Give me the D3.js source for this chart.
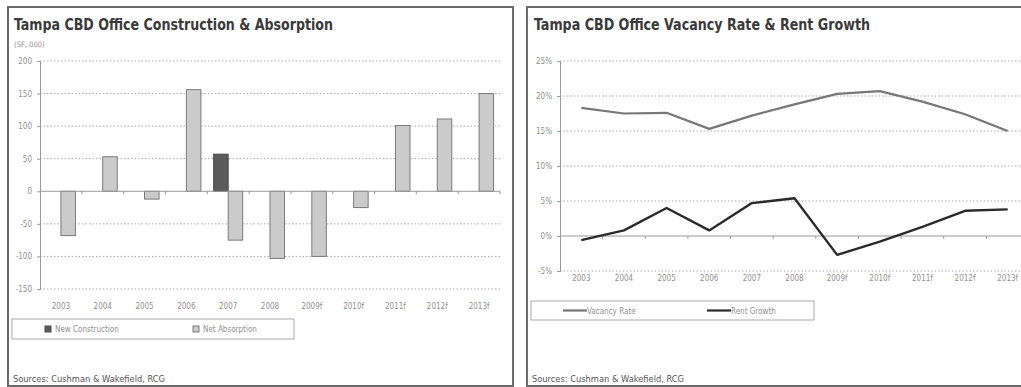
<!DOCTYPE html>
<html>
<head>
<meta charset="utf-8">
<script src="https://cdn.jsdelivr.net/npm/d3@7"></script>
<style>
  html, body { margin: 0; padding: 0; background: #fff; }
  svg { display: block; }
  .narrow { font-family: "Liberation Sans Narrow", "DejaVu Sans Condensed", "Arial Narrow", sans-serif; }
</style>
</head>
<body>
<svg id="chart" width="1021" height="387"></svg>
<script>
// Years shown on both panels
const years = ["2003", "2004", "2005", "2006", "2007", "2008", "2009f", "2010f", "2011f", "2012f", "2013f"];

// Construction & absorption, thousands of SF
const newConstruction = [0, 0, 0, 0, 57, 0, 0, 0, 0, 0, 0];
const netAbsorption = [-68, 53, -12, 156, -75, -103, -100, -25, 101, 111, 150];
const sfTicks = [200, 150, 100, 50, 0, -50, -100, -150];

// Vacancy rate and rent growth, percent
const vacancyRate = [18.3, 17.5, 17.6, 15.3, 17.2, 18.8, 20.3, 20.7, 19.2, 17.4, 15.0];
const rentGrowth = [-0.6, 0.8, 4.0, 0.8, 4.7, 5.4, -2.7, -0.8, 1.3, 3.6, 3.8];
const pctTicks = [25, 20, 15, 10, 5, 0, -5];

const svg = d3.select("#chart");
const gridColor = "#a8a8a8";
const labelColor = "#909090";

// ---------- panel frames ----------
svg.append("rect").attr("x", 8).attr("y", 7).attr("width", 505).attr("height", 379)
  .attr("fill", "none").attr("stroke", "#6a6a6a").attr("stroke-width", 2);
svg.append("rect").attr("x", 527).attr("y", 7).attr("width", 510).attr("height", 379)
  .attr("fill", "none").attr("stroke", "#6a6a6a").attr("stroke-width", 2);

function title(x, text, len) {
  svg.append("text").attr("class", "narrow").attr("x", x).attr("y", 30)
    .attr("font-size", 15.5).attr("font-weight", "bold").attr("fill", "#3a3a3a")
    .attr("textLength", len).attr("lengthAdjust", "spacingAndGlyphs").text(text);
}
function sources(x) {
  svg.append("text").attr("class", "narrow").attr("x", x).attr("y", 382)
    .attr("font-size", 9).attr("fill", "#555")
    .attr("textLength", 152).attr("lengthAdjust", "spacingAndGlyphs")
    .text("Sources: Cushman & Wakefield, RCG");
}
// plain hyphen for negative tick values
const fmtSF = d => String(d);
const fmtPct = d => d + "%";

// ---------- left panel: bars ----------
title(14, "Tampa CBD Office Construction & Absorption", 319);
svg.append("text").attr("class", "narrow").attr("x", 14).attr("y", 47)
  .attr("font-size", 7.5).attr("fill", labelColor).text("(SF, 000)");

const L = { left: 40, right: 500, top: 61, bottom: 289 };
const xL = d3.scaleBand().domain(years).range([L.left, L.right]).paddingInner(0.306).paddingOuter(0.153);
const xStepL = d3.scaleBand().domain(years).range([L.left, L.right]);
const seriesL = ["New Construction", "Net Absorption"];
const xSub = d3.scaleBand().domain(seriesL).range([0, xL.bandwidth()]);
const yL = d3.scaleLinear().domain([-150, 200]).range([L.bottom, L.top]);

const gL = svg.append("g");
// gridlines
gL.selectAll("line.grid").data(sfTicks.filter(d => d !== 0)).join("line")
  .attr("x1", L.left).attr("x2", L.right).attr("y1", d => yL(d)).attr("y2", d => yL(d))
  .attr("stroke", gridColor).attr("stroke-dasharray", "1.5,2").attr("stroke-width", 1);
// y axis
const yAxisL = d3.axisLeft(yL).tickValues(sfTicks).tickSize(3).tickFormat(fmtSF);
gL.append("g").attr("transform", `translate(${L.left},0)`).call(yAxisL)
  .call(g => g.select(".domain").attr("stroke", "#999"))
  .call(g => g.selectAll(".tick line").attr("stroke", "#999"))
  .call(g => g.selectAll(".tick text").attr("class", "narrow").attr("font-size", 8).attr("fill", labelColor).attr("x", -8));

const rowsL = years.map((y, i) => ({ year: y, values: [
  { key: "New Construction", v: newConstruction[i] },
  { key: "Net Absorption", v: netAbsorption[i] }] }));
const barFill = { "New Construction": "#5b5b5b", "Net Absorption": "#cbcbcb" };
const barStroke = { "New Construction": "#4a4a4a", "Net Absorption": "#7a7a7a" };
gL.selectAll("g.yr").data(rowsL).join("g")
  .attr("transform", d => `translate(${xL(d.year)},0)`)
  .selectAll("rect").data(d => d.values.filter(e => e.v !== 0)).join("rect")
  .attr("x", d => xSub(d.key)).attr("width", xSub.bandwidth())
  .attr("y", d => yL(Math.max(0, d.v))).attr("height", d => Math.abs(yL(d.v) - yL(0)))
  .attr("fill", d => barFill[d.key]).attr("stroke", d => barStroke[d.key]).attr("stroke-width", 1);

// zero line with category boundary ticks
gL.append("line").attr("x1", L.left).attr("x2", L.right).attr("y1", yL(0)).attr("y2", yL(0)).attr("stroke", "#999");
gL.selectAll("line.cat").data(years.slice(1).concat(["end"])).join("line")
  .attr("x1", (d, i) => L.left + xStepL.step() * (i + 1)).attr("x2", (d, i) => L.left + xStepL.step() * (i + 1))
  .attr("y1", yL(0)).attr("y2", yL(0) + 3).attr("stroke", "#999");
// category labels
gL.selectAll("text.cat").data(years).join("text").attr("class", "narrow")
  .attr("x", d => xStepL(d) + xStepL.bandwidth() / 2).attr("y", 309)
  .attr("text-anchor", "middle").attr("font-size", 8).attr("fill", labelColor).text(d => d);

// legend
svg.append("rect").attr("x", 12).attr("y", 319).attr("width", 282).attr("height", 20)
  .attr("fill", "#fff").attr("stroke", "#aaa");
const legL = [{ key: "New Construction", x: 45 }, { key: "Net Absorption", x: 193 }];
legL.forEach(d => {
  svg.append("rect").attr("x", d.x).attr("y", 326).attr("width", 6).attr("height", 6)
    .attr("fill", barFill[d.key]).attr("stroke", barStroke[d.key]);
  svg.append("text").attr("class", "narrow").attr("x", d.x + 10).attr("y", 332)
    .attr("font-size", 8).attr("fill", labelColor).text(d.key);
});
sources(13);

// ---------- right panel: lines ----------
title(534, "Tampa CBD Office Vacancy Rate & Rent Growth", 336);

const R = { left: 560, right: 1029, top: 61, bottom: 271 };
const xR = d3.scaleBand().domain(years).range([R.left, R.right]);
const yR = d3.scaleLinear().domain([-5, 25]).range([R.bottom, R.top]);
const gR = svg.append("g");

gR.selectAll("line.grid").data(pctTicks.filter(d => d !== 0)).join("line")
  .attr("x1", R.left).attr("x2", R.right).attr("y1", d => yR(d)).attr("y2", d => yR(d))
  .attr("stroke", gridColor).attr("stroke-dasharray", "1.5,2").attr("stroke-width", 1);
const yAxisR = d3.axisLeft(yR).tickValues(pctTicks).tickSize(3).tickFormat(fmtPct);
gR.append("g").attr("transform", `translate(${R.left},0)`).call(yAxisR)
  .call(g => g.select(".domain").attr("stroke", "#999"))
  .call(g => g.selectAll(".tick line").attr("stroke", "#999"))
  .call(g => g.selectAll(".tick text").attr("class", "narrow").attr("font-size", 8).attr("fill", labelColor).attr("x", -8));

gR.append("line").attr("x1", R.left).attr("x2", R.right).attr("y1", yR(0)).attr("y2", yR(0)).attr("stroke", "#999");
gR.selectAll("line.cat").data(years.slice(1)).join("line")
  .attr("x1", d => xR(d)).attr("x2", d => xR(d))
  .attr("y1", yR(0)).attr("y2", yR(0) + 3).attr("stroke", "#999");
gR.selectAll("text.cat").data(years).join("text").attr("class", "narrow")
  .attr("x", d => xR(d) + xR.bandwidth() / 2).attr("y", 281)
  .attr("text-anchor", "middle").attr("font-size", 8).attr("fill", labelColor).text(d => d);

const line = d3.line().x((d, i) => xR(years[i]) + xR.bandwidth() / 2).y(d => yR(d));
gR.append("path").datum(vacancyRate).attr("d", line).attr("fill", "none")
  .attr("stroke", "#777").attr("stroke-width", 2.2).attr("stroke-linejoin", "round");
gR.append("path").datum(rentGrowth).attr("d", line).attr("fill", "none")
  .attr("stroke", "#2a2a2a").attr("stroke-width", 2.4).attr("stroke-linejoin", "round");

svg.append("rect").attr("x", 531).attr("y", 301).attr("width", 283).attr("height", 19)
  .attr("fill", "#fff").attr("stroke", "#aaa");
const legR = [{ key: "Vacancy Rate", x: 563, c: "#777" }, { key: "Rent Growth", x: 707, c: "#2a2a2a" }];
legR.forEach(d => {
  svg.append("line").attr("x1", d.x).attr("x2", d.x + 24).attr("y1", 310.5).attr("y2", 310.5)
    .attr("stroke", d.c).attr("stroke-width", 2.2);
  svg.append("text").attr("class", "narrow").attr("x", d.x + 24).attr("y", 313.5)
    .attr("font-size", 8).attr("fill", labelColor).text(d.key);
});
sources(532);
</script>
</body>
</html>
